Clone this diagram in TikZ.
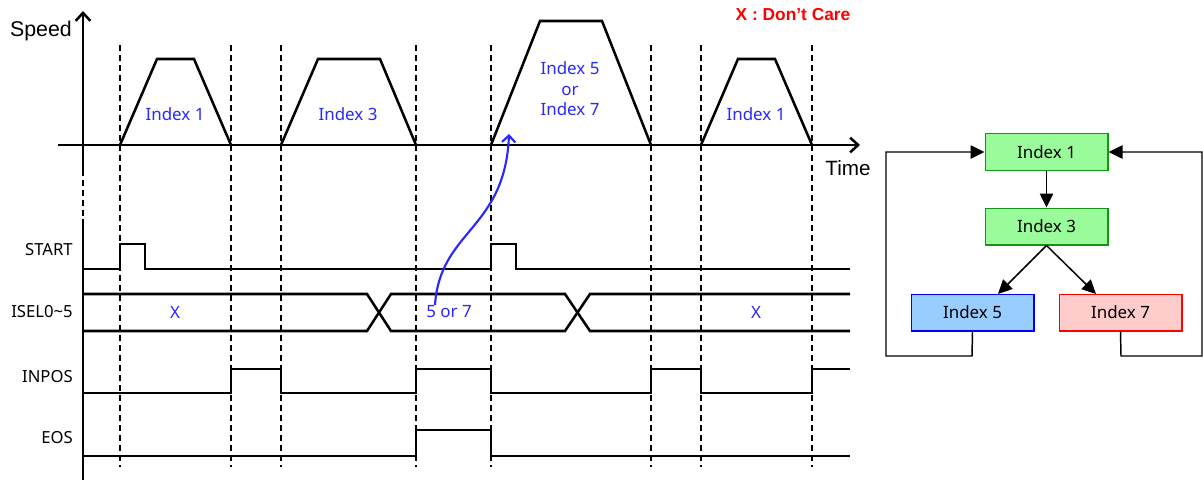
\documentclass[tikz,border=0pt]{standalone}
\usepackage{fontspec}
\setmainfont{Noto Sans}
\newfontfamily\arialf{Liberation Sans}
\usetikzlibrary{arrows.meta}
\definecolor{lblblue}{RGB}{40,40,255}
\definecolor{boxgreen}{RGB}{153,251,153}
\definecolor{boxgreenline}{RGB}{20,150,20}
\definecolor{boxblue}{RGB}{153,204,255}
\definecolor{boxred}{RGB}{255,204,204}
\tikzset{
  sig/.style={line width=1.9pt, line join=miter},
  axis/.style={line width=1.9pt},
  grid/.style={line width=0.9pt, dash pattern=on 4.5pt off 3pt},
  lbl/.style={font=\fontsize{12.5}{14}\selectfont, anchor=east, inner sep=0pt},
  blue lbl/.style={font=\fontsize{12.7}{15.4}\selectfont, text=lblblue, inner sep=0pt, align=center},
  fbox/.style={draw, line width=1pt, minimum width=92pt, minimum height=27.5pt, inner sep=0pt, font=\fontsize{12.7}{14}\selectfont},
  farrow/.style={line width=1.1pt, -{Triangle[length=10.5pt,width=10pt]}},
}
\begin{document}
\begin{tikzpicture}[x=0.75pt, y=-0.75pt]
\useasboundingbox (0,0) rectangle (1203,480);
% axes
\draw[axis, -{Straight Barb[length=6pt,width=11pt]}] (83,170) -- (83,11);
\draw[grid] (83,170) -- (83,219);
\draw[axis] (83,219) -- (83,480);
\draw[axis, -{Straight Barb[length=6pt,width=11pt]}] (58,145) -- (860,145);
\node[font=\arialf\fontsize{16}{18}\selectfont, inner sep=0pt] (speed) at (41,31) {Speed};
\node[font=\arialf\fontsize{15.5}{18}\selectfont, inner sep=0pt] (time) at (848,168) {Time};
% dashed verticals
\foreach \x in {120,231,281,416,491,651,701,812}
  \draw[grid] (\x,45) -- (\x,467);
% trapezoids
\draw[sig] (120,145) -- (157,59) -- (194,59) -- (231,145);
\draw[sig] (281,145) -- (318,59) -- (380,59) -- (416,145);
\draw[sig] (491,145) -- (540,21) -- (602,21) -- (651,145);
\draw[sig] (701,145) -- (738,59) -- (775,59) -- (812,145);
\node[blue lbl] (i1a) at (175,114) {Index 1};
\node[blue lbl] (i3a) at (348,114) {Index 3};
\node[blue lbl] (i57) at (570,89) {Index 5\\or\\Index 7};
\node[blue lbl] (i1b) at (756,114) {Index 1};
\node[font=\arialf\bfseries\fontsize{13}{15}\selectfont, text=red, inner sep=0pt] (dc) at (793,15) {X : Don’t Care};
% signal labels
\node[lbl] (start) at (73,250) {START};
\node[lbl] (isel) at (73,312) {ISEL0\char`~5};
\node[lbl] (inpos) at (73,377) {INPOS};
\node[lbl] (eos) at (73,438) {EOS};
% START
\draw[sig] (83,269) -- (120,269) -- (120,244) -- (145,244) -- (145,269) -- (491,269) -- (491,244) -- (516,244) -- (516,269) -- (850,269);
% ISEL
\draw[sig] (83,294) -- (367,294) -- (391,331) -- (565,331) -- (590,294) -- (850,294);
\draw[sig] (83,331) -- (367,331) -- (391,294) -- (565,294) -- (590,331) -- (850,331);
\node[blue lbl] (xa) at (175,312) {X};
\node[blue lbl] (s57) at (449,312) {5 or 7};
\node[blue lbl] (xb) at (756,312) {X};
% INPOS
\draw[sig] (83,393) -- (231,393) -- (231,369) -- (281,369) -- (281,393) -- (416,393) -- (416,369) -- (491,369) -- (491,393) -- (651,393) -- (651,369) -- (701,369) -- (701,393) -- (812,393) -- (812,369) -- (850,369);
% EOS
\draw[sig] (83,456) -- (416,456) -- (416,430) -- (491,430) -- (491,456) -- (850,456);
% blue curve
\coordinate (cstart) at (435,305);
\coordinate (ctip) at (509,134);
\draw[lblblue, line width=1.6pt, -{Straight Barb[length=5pt,width=10pt]}] (cstart) .. controls (440,230) and (505,230) .. (ctip);
% flowchart
\node[fbox, fill=boxgreen, draw=boxgreenline] (f1) at (1046.5,152) {Index 1};
\node[fbox, fill=boxgreen, draw=boxgreenline] (f3) at (1046.5,226.5) {Index 3};
\node[fbox, fill=boxblue, draw=blue] (f5) at (972.5,312.5) {Index 5};
\node[fbox, fill=boxred, draw=red] (f7) at (1120.5,312.5) {Index 7};
\draw[farrow] (f1) -- (f3);
\draw[farrow] (f3.south) -- (998,294);
\draw[farrow] (f3.south) -- (1096,294);
\draw[farrow] (f5.south) -- (972,356) -- (886,356) -- (886,152) -- (f1.west);
\draw[farrow] (f7.south) -- (1121,356) -- (1202,356) -- (1202,152) -- (f1.east);
\end{tikzpicture}
\end{document}
